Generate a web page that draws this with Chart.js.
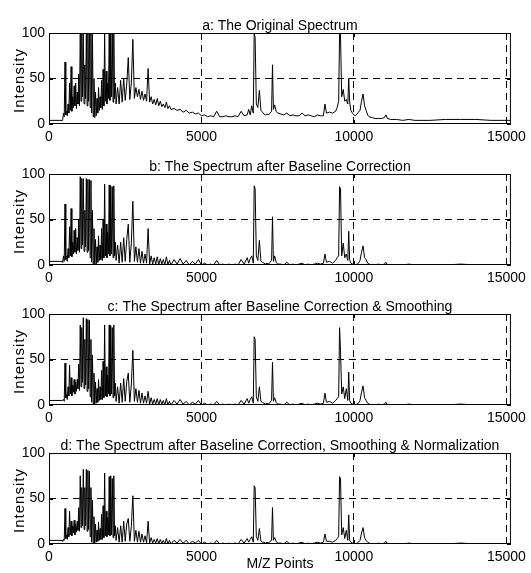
<!DOCTYPE html>
<html>
<head>
<meta charset="utf-8">
<script src="https://cdn.jsdelivr.net/npm/chart.js@4.4.1/dist/chart.umd.min.js"></script>
<style>
  body { margin: 0; background: #fff; }
  #wrap { position: relative; width: 531px; height: 573px; }
  canvas { position: absolute; left: 0; }
</style>
</head>
<body>
<div id="wrap">
  <canvas id="pa" width="531" height="153" style="top:0px"></canvas>
  <canvas id="pb" width="531" height="153" style="top:141px"></canvas>
  <canvas id="pc" width="531" height="153" style="top:281px"></canvas>
  <canvas id="pd" width="531" height="153" style="top:420px"></canvas>
</div>
<script>
// M/Z sample positions shared by the four spectra
const mzPoints = [
  0, 430,
  450, 475, 500, 525, 550, 575, 600, 625, 650, 675,
  700, 725, 750, 775, 800, 825, 850, 875, 900, 925,
  950, 975, 1000, 1025, 1050, 1075, 1100, 1125, 1150, 1175,
  1200, 1225, 1250, 1275, 1300, 1325, 1350, 1375, 1400, 1425,
  1450, 1475, 1500, 1525, 1550, 1575, 1600, 1625, 1650, 1675,
  1700, 1725, 1750, 1775, 1800, 1825, 1850, 1875, 1900, 1925,
  1950, 1975, 2000, 2025, 2050, 2075, 2100, 2125, 2150, 2175,
  2200,
  2250, 2300, 2350, 2400, 2450, 2500, 2550, 2600, 2650, 2700,
  2750, 2800, 2850, 2900, 2950, 3000, 3050, 3100, 3150, 3200,
  3250, 3300, 3350, 3400, 3450, 3500, 3550, 3600, 3650, 3700,
  3750, 3800, 3850, 3900, 3950, 4000,
  4100, 4200, 4300, 4400, 4500, 4600, 4700, 4800, 4900, 5000,
  5100, 5200, 5300, 5400, 5500, 5600, 5700, 5800, 5900, 6000,
  6100, 6200, 6300, 6400, 6500,
  6550, 6600, 6650, 6700, 6730, 6760, 6800, 6850, 6900, 6950,
  7000, 7050, 7100, 7150, 7200, 7250, 7300, 7330, 7360, 7400,
  7450, 7500,
  7600, 7700, 7800, 7900, 8000, 8100, 8200, 8300, 8400, 8500,
  8600, 8700, 8800, 8900, 9000,
  9050, 9100, 9200, 9300, 9400, 9450, 9500, 9530, 9560, 9600,
  9650, 9700, 9750, 9800, 9830, 9860, 9900, 9950, 10000, 10050,
  10100, 10150, 10200, 10250, 10300, 10350, 10400, 10450,
  10500, 10600, 10700, 10800, 10900, 11000, 11050, 11100, 11200, 11400,
  11600, 11800, 12000, 12500, 13000, 13500, 14000, 14500, 15000, 15150
];

// a: original spectrum
const originalIntensity = [
  4, 4,
  5, 12, 8, 68, 10, 14, 9, 22, 12, 45,
  15, 63, 14, 30, 18, 42, 20, 45, 17, 35,
  22, 55, 20, 100, 25, 100, 30, 100, 22, 65,
  28, 100, 20, 100, 25, 100, 18, 100, 12, 100,
  8, 50, 7, 35, 9, 28, 12, 40, 15, 30,
  18, 48, 16, 60, 20, 100, 25, 58, 22, 45,
  28, 100, 26, 100, 30, 100, 24, 100, 28, 45,
  22,
  40, 22, 48, 24, 50, 26, 44, 73, 27, 45,
  93, 28, 40, 30, 38, 27, 36, 26, 33, 25,
  61, 24, 30, 22, 27, 21, 28, 20, 25, 19,
  22, 18, 24, 17, 20, 16,
  17, 15, 16, 13, 15, 12, 13, 11, 12, 9,
  10, 8, 9, 8, 14, 8, 8, 9, 8, 8,
  9, 8, 14, 9, 10,
  16, 10, 20, 12, 100, 95, 22, 18, 37, 15,
  13, 11, 10, 11, 10, 12, 14, 65, 16, 21,
  14, 12,
  11, 10, 12, 9, 10, 9, 9, 12, 9, 10,
  9, 8, 10, 9, 9,
  22, 12, 13, 12, 14, 18, 25, 100, 98, 30,
  38, 25, 27, 22, 50, 24, 15, 12, 10, 9,
  11, 13, 15, 25, 33, 20, 15, 10,
  8, 7, 6, 6, 6, 7, 10, 6, 5, 5,
  4, 5, 4, 4, 5, 5, 5, 4, 4, 4
];

// b: after baseline correction
const baselineIntensity = [
  4, 4,
  3, 10, 4, 67, 6, 10, 4, 18, 8, 42,
  10, 62, 9, 25, 12, 38, 14, 40, 12, 30,
  16, 50, 14, 97, 18, 95, 22, 95, 15, 60,
  20, 95, 14, 94, 16, 94, 8, 93, 3, 60,
  0, 40, 0, 28, 1, 20, 3, 32, 5, 22,
  6, 40, 5, 50, 8, 89, 10, 45, 8, 36,
  12, 88, 10, 87, 12, 86, 8, 87, 10, 25,
  5,
  22, 2, 25, 3, 30, 4, 28, 45, 3, 24,
  70, 4, 20, 3, 18, 2, 15, 2, 12, 2,
  40, 1, 10, 1, 8, 1, 9, 0, 7, 1,
  6, 0, 9, 0, 5, 0,
  6, 1, 7, 1, 5, 0, 4, 1, 6, 0,
  2, 0, 1, 0, 5, 0, 1, 0, 1, 0,
  1, 0, 6, 1, 8,
  2, 7, 10, 2, 87, 84, 10, 5, 27, 4,
  3, 2, 1, 2, 1, 3, 5, 53, 4, 10,
  3, 1,
  1, 0, 3, 0, 1, 0, 1, 2, 0, 1,
  0, 1, 2, 1, 2,
  12, 3, 4, 2, 5, 8, 10, 86, 84, 10,
  24, 8, 12, 5, 37, 6, 2, 1, 1, 0,
  1, 2, 5, 14, 21, 8, 6, 2,
  1, 0, 0, 1, 0, 1, 3, 0, 0, 0,
  0, 1, 0, 0, 0, 1, 0, 0, 0, 0
];

// c: after baseline correction & smoothing
const smoothedIntensity = [
  5, 5,
  5, 6, 4, 46, 8, 12, 6, 20, 10, 44,
  12, 30, 10, 22, 14, 28, 12, 25, 15, 28,
  18, 45, 16, 88, 20, 85, 25, 96, 18, 72,
  22, 95, 15, 94, 18, 93, 9, 72, 3, 55,
  1, 35, 0, 25, 2, 18, 3, 28, 5, 20,
  6, 38, 6, 48, 8, 88, 10, 42, 9, 33,
  12, 88, 10, 87, 12, 85, 8, 88, 10, 24,
  4,
  20, 2, 24, 3, 29, 4, 26, 35, 3, 22,
  60, 4, 18, 3, 16, 2, 13, 2, 10, 2,
  15, 1, 8, 1, 6, 1, 7, 0, 6, 1,
  5, 0, 7, 0, 4, 0,
  5, 1, 6, 1, 4, 0, 3, 1, 5, 0,
  2, 0, 1, 0, 4, 0, 1, 0, 1, 0,
  1, 0, 5, 1, 7,
  2, 6, 9, 2, 75, 72, 9, 4, 20, 4,
  3, 2, 1, 2, 1, 3, 5, 47, 4, 8,
  3, 1,
  1, 0, 3, 0, 1, 0, 1, 2, 0, 1,
  0, 1, 2, 1, 2,
  13, 3, 4, 2, 5, 7, 9, 85, 60, 12,
  20, 7, 18, 5, 36, 5, 2, 1, 1, 0,
  1, 2, 5, 14, 21, 8, 5, 2,
  1, 0, 0, 1, 0, 1, 3, 0, 0, 0,
  0, 1, 0, 0, 0, 1, 0, 0, 0, 0
];

// d: after baseline correction, smoothing & normalization
const normalizedIntensity = [
  4, 4,
  3, 5, 4, 39, 6, 10, 5, 18, 8, 36,
  10, 25, 9, 20, 12, 26, 10, 22, 13, 25,
  15, 40, 14, 75, 18, 62, 20, 82, 16, 62,
  20, 82, 14, 81, 16, 80, 8, 62, 2, 48,
  1, 30, 0, 22, 2, 15, 3, 24, 4, 17,
  5, 33, 5, 42, 7, 78, 9, 36, 8, 29,
  10, 74, 9, 75, 10, 72, 7, 75, 9, 20,
  4,
  18, 2, 20, 2, 25, 3, 22, 28, 3, 19,
  53, 3, 15, 2, 14, 2, 11, 2, 9, 1,
  25, 1, 7, 1, 5, 1, 6, 0, 5, 1,
  4, 0, 6, 0, 4, 0,
  4, 1, 5, 1, 4, 0, 3, 1, 4, 0,
  2, 0, 1, 0, 4, 0, 1, 0, 1, 0,
  1, 0, 5, 1, 6,
  2, 5, 8, 2, 64, 62, 8, 4, 17, 3,
  2, 2, 1, 2, 1, 3, 4, 40, 4, 7,
  3, 1,
  1, 0, 3, 0, 1, 0, 1, 2, 0, 1,
  0, 1, 2, 1, 2,
  11, 3, 3, 2, 4, 6, 8, 74, 72, 10,
  18, 6, 15, 4, 32, 4, 2, 1, 1, 0,
  1, 2, 4, 12, 18, 7, 4, 2,
  1, 0, 0, 1, 0, 1, 3, 0, 0, 0,
  0, 1, 0, 0, 0, 1, 0, 0, 0, 0
];

const panelTitles = [
  'a: The Original Spectrum',
  'b: The Spectrum after Baseline Correction',
  'c: The Spectrum after Baseline Correction & Smoothing',
  'd: The Spectrum after Baseline Correction, Smoothing & Normalization'
];
const xTicks = [0, 5000, 10000, 15000];
const yTicks = [0, 50, 100];

const FONT = '"Liberation Sans", Arial, Helvetica, sans-serif';
Chart.defaults.font.family = FONT;
Chart.defaults.color = '#000';

// matlab style box, inward ticks, title and spaced y label
const matlabBox = {
  id: 'matlabBox',
  afterDraw(chart, args, opts) {
    const { ctx, chartArea: a, scales } = chart;
    ctx.save();
    ctx.strokeStyle = '#000';
    ctx.lineWidth = 1;
    ctx.setLineDash([]);
    ctx.strokeRect(a.left + 0.5, a.top + 0.5, a.right - a.left - 1, a.bottom - a.top - 1);
    ctx.beginPath();
    xTicks.forEach(v => {
      const px = Math.round(scales.x.getPixelForValue(v)) + 0.5;
      ctx.moveTo(px, a.bottom); ctx.lineTo(px, a.bottom - 4);
      ctx.moveTo(px, a.top); ctx.lineTo(px, a.top + 4);
    });
    yTicks.forEach(v => {
      const py = Math.round(scales.y.getPixelForValue(v)) + 0.5;
      ctx.moveTo(a.left, py); ctx.lineTo(a.left + 4, py);
      ctx.moveTo(a.right, py); ctx.lineTo(a.right - 4, py);
    });
    ctx.stroke();
    ctx.fillStyle = '#000';
    ctx.font = '14px ' + FONT;
    ctx.textAlign = 'center';
    ctx.textBaseline = 'alphabetic';
    ctx.fillText(opts.title, (a.left + a.right) / 2, a.top - 3);

    ctx.translate(20, (a.top + a.bottom) / 2 + 2);
    ctx.rotate(-Math.PI / 2);
    ctx.font = '15px ' + FONT;
    ctx.letterSpacing = '1px';
    ctx.textBaseline = 'middle';
    ctx.fillText('Intensity', 0, 0);
    ctx.restore();
  }
};

function makePanel(id, values, title, showXTitle) {
  const pts = mzPoints.map((x, i) => ({ x: x, y: values[i] }));
  return new Chart(document.getElementById(id), {
    type: 'line',
    data: {
      datasets: [{
        data: pts,
        borderColor: '#000',
        borderWidth: 1,
        pointRadius: 0,
        tension: 0,
        fill: false
      }]
    },
    options: {
      responsive: false,
      animation: false,
      devicePixelRatio: 1,
      layout: { padding: { top: 33, right: 18, bottom: 0, left: 0 } },
      plugins: {
        legend: { display: false },
        tooltip: { enabled: false },
        matlabBox: { title: title }
      },
      scales: {
        x: {
          type: 'linear',
          min: 0,
          max: 15150,
          afterBuildTicks: s => { s.ticks = xTicks.map(v => ({ value: v })); },
          afterFit: s => { s.height = 29; },
          ticks: {
            maxRotation: 0,
            autoSkip: false,
            padding: 5,
            font: { size: 14 },
            callback: v => String(v)
          },
          grid: {
            drawTicks: false,
            lineWidth: 1,
            color: c => (c.tick && c.tick.value === 0) ? 'rgba(0,0,0,0)' : '#000'
          },
          border: { display: false, dash: [7, 5] },
          title: {
            display: showXTitle,
            text: 'M/Z Points',
            font: { size: 14 },
            padding: { top: 0, bottom: 0 }
          }
        },
        y: {
          min: 0,
          max: 100,
          afterBuildTicks: s => { s.ticks = yTicks.map(v => ({ value: v })); },
          afterFit: s => { s.width = 49; },
          ticks: {
            padding: 4,
            font: { size: 14 },
            callback: v => String(v)
          },
          grid: {
            drawTicks: false,
            lineWidth: 1,
            color: c => (c.tick && (c.tick.value === 0 || c.tick.value === 100)) ? 'rgba(0,0,0,0)' : '#000'
          },
          border: { display: false, dash: [7, 5] }
        }
      }
    },
    plugins: [matlabBox]
  });
}

makePanel('pa', originalIntensity, panelTitles[0], false);
makePanel('pb', baselineIntensity, panelTitles[1], false);
makePanel('pc', smoothedIntensity, panelTitles[2], false);
makePanel('pd', normalizedIntensity, panelTitles[3], true);
</script>
</body>
</html>
